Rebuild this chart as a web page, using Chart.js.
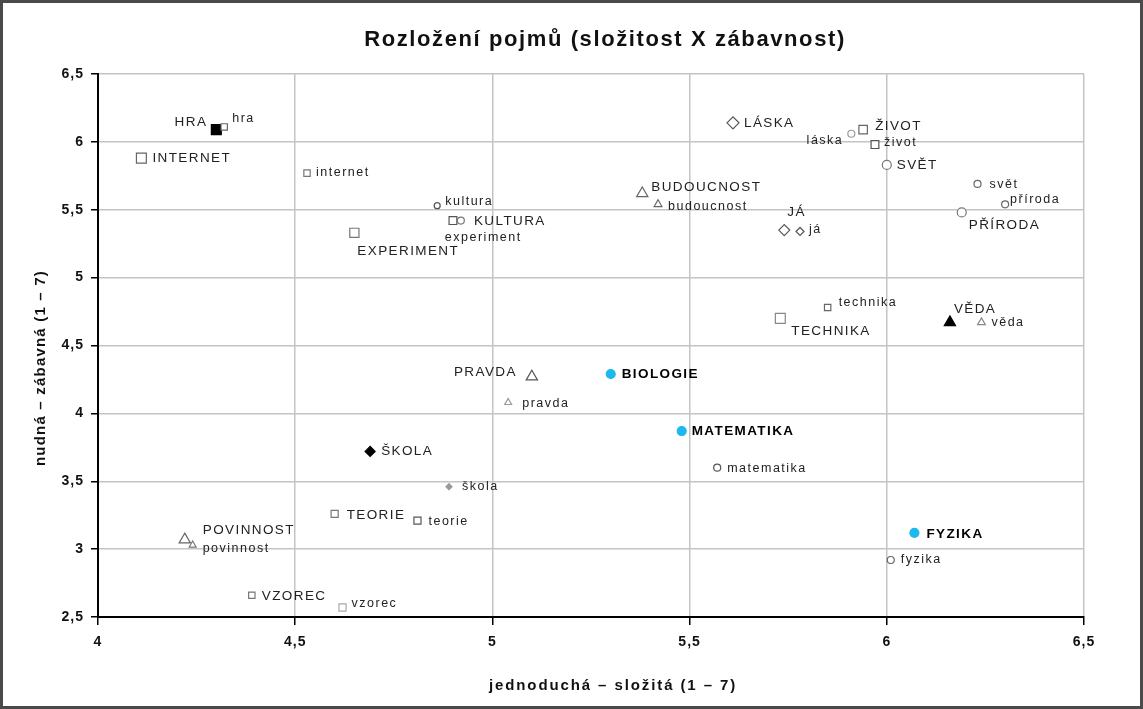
<!DOCTYPE html>
<html>
<head>
<meta charset="utf-8">
<script src="https://cdn.jsdelivr.net/npm/chart.js@4.4.1/dist/chart.umd.min.js"></script>
<style>
html,body{margin:0;padding:0;background:#fff;}
canvas{display:block;}
</style>
</head>
<body>
<canvas id="c" width="1143" height="709"></canvas>
<script>
// ---- DATA ----
const chartTitle = 'Rozložení pojmů (složitost X zábavnost)';
const xAxisTitle = 'jednoduchá – složitá (1 – 7)';
const yAxisTitle = 'nudná – zábavná (1 – 7)';
const names = ['HRA','hra','INTERNET','internet','KULTURA','kultura','EXPERIMENT','experiment',
  'BUDOUCNOST','budoucnost','LÁSKA','láska','ŽIVOT','život','SVĚT','svět','PŘÍRODA','příroda',
  'JÁ','já','TECHNIKA','technika','VĚDA','věda','PRAVDA','pravda','BIOLOGIE','MATEMATIKA',
  'matematika','ŠKOLA','škola','TEORIE','teorie','POVINNOST','povinnost','VZOREC','vzorec',
  'FYZIKA','fyzika'];
const xValues = [4.30,4.32,4.11,4.53,4.90,4.86,4.65,4.92,
  5.38,5.42,5.61,5.91,5.94,5.97,6.00,6.23,6.19,6.30,
  5.74,5.78,5.73,5.85,6.16,6.24,5.10,5.04,5.30,5.48,
  5.57,4.69,4.89,4.60,4.81,4.22,4.24,4.39,4.62,
  6.07,6.01];
const yValues = [6.09,6.11,5.88,5.77,5.42,5.53,5.33,5.42,
  5.62,5.54,6.14,6.06,6.09,5.98,5.83,5.69,5.48,5.54,
  5.35,5.34,4.70,4.78,4.67,4.67,4.27,4.08,4.29,3.87,
  3.60,3.72,3.46,3.26,3.21,3.07,3.03,2.66,2.57,
  3.12,2.92];
const xTickValues = [4,4.5,5,5.5,6,6.5];
const yTickValues = [2.5,3,3.5,4,4.5,5,5.5,6,6.5];

// ---- STYLES (marker + label placement) ----
const CY = '#1cb8ee';
const st = {
 'HRA':{s:'rect',r:7,f:'#000',c:'#000',dx:-9,dy:-7,a:'right'},
 'hra':{s:'rect',r:4.5,f:'#fff',c:'#666',dx:8,dy:-8},
 'INTERNET':{s:'rect',r:7,f:'#fff',c:'#666',dx:11,dy:0},
 'internet':{s:'rect',r:4.5,f:'#fff',c:'#777',dx:9,dy:-1},
 'KULTURA':{s:'rect',r:5.5,f:'#fff',c:'#555',dx:21,dy:1},
 'kultura':{s:'circle',r:3,f:'#fff',c:'#555',dx:8,dy:-4},
 'EXPERIMENT':{s:'rect',r:6.5,f:'#fff',c:'#777',dx:3,dy:18},
 'experiment':{s:'circle',r:3.5,f:'#fff',c:'#777',dx:-16,dy:17},
 'BUDOUCNOST':{s:'triangle',r:6.5,f:'#fff',c:'#666',dx:9,dy:-6},
 'budoucnost':{s:'triangle',r:4.5,f:'#fff',c:'#666',dx:10,dy:2},
 'LÁSKA':{s:'rectRot',r:6,f:'#fff',c:'#555',dx:11,dy:0},
 'láska':{s:'circle',r:3.5,f:'#fff',c:'#999',dx:-8,dy:7,a:'right'},
 'ŽIVOT':{s:'rect',r:6,f:'#fff',c:'#666',dx:12,dy:-3},
 'život':{s:'rect',r:5.5,f:'#fff',c:'#555',dx:9,dy:-2},
 'SVĚT':{s:'circle',r:4.5,f:'#fff',c:'#777',dx:10,dy:0},
 'svět':{s:'circle',r:3.5,f:'#fff',c:'#666',dx:12,dy:1},
 'PŘÍRODA':{s:'circle',r:4.5,f:'#fff',c:'#777',dx:7,dy:13},
 'příroda':{s:'circle',r:3.5,f:'#fff',c:'#666',dx:5,dy:-5},
 'JÁ':{s:'rectRot',r:5.5,f:'#fff',c:'#555',dx:3,dy:-18},
 'já':{s:'rectRot',r:4,f:'#fff',c:'#555',dx:9,dy:-2},
 'TECHNIKA':{s:'rect',r:7,f:'#fff',c:'#888',dx:11,dy:13},
 'technika':{s:'rect',r:4.5,f:'#fff',c:'#666',dx:11,dy:-5},
 'VĚDA':{s:'triangle',r:6.5,f:'#000',c:'#000',dx:4,dy:-13},
 'věda':{s:'triangle',r:4.5,f:'#fff',c:'#888',dx:10,dy:0},
 'PRAVDA':{s:'triangle',r:6.5,f:'#fff',c:'#555',dx:-15,dy:-4,a:'right'},
 'pravda':{s:'triangle',r:4,f:'#fff',c:'#999',dx:14,dy:1},
 'BIOLOGIE':{s:'circle',r:4.5,f:CY,c:CY,dx:11,dy:0,b:true},
 'MATEMATIKA':{s:'circle',r:4.5,f:CY,c:CY,dx:10,dy:0,b:true},
 'matematika':{s:'circle',r:3.5,f:'#fff',c:'#555',dx:10,dy:1},
 'ŠKOLA':{s:'rectRot',r:5,f:'#000',c:'#000',dx:11,dy:0},
 'škola':{s:'rectRot',r:3,f:'#999',c:'#999',dx:13,dy:0},
 'TEORIE':{s:'rect',r:5,f:'#fff',c:'#777',dx:12,dy:1},
 'teorie':{s:'rect',r:5,f:'#fff',c:'#555',dx:11,dy:1},
 'POVINNOST':{s:'triangle',r:6.5,f:'#fff',c:'#666',dx:18,dy:-9},
 'povinnost':{s:'triangle',r:4,f:'#fff',c:'#777',dx:10,dy:3},
 'VZOREC':{s:'rect',r:4.5,f:'#fff',c:'#777',dx:10,dy:1},
 'vzorec':{s:'rect',r:5,f:'#fff',c:'#aaa',dx:9,dy:-4},
 'FYZIKA':{s:'circle',r:4.5,f:CY,c:CY,dx:12,dy:1,b:true},
 'fyzika':{s:'circle',r:3.5,f:'#fff',c:'#666',dx:10,dy:0}
};
const FONT = "'Liberation Sans', Arial, sans-serif";
const points = xValues.map((x,i)=>({x:x,y:yValues[i]}));
const fmt = v => String(v).replace('.',',');

const decor = {
  id:'decor',
  beforeDraw(chart){
    const ctx = chart.ctx;
    ctx.save();
    ctx.fillStyle='#fff';
    ctx.fillRect(0,0,chart.width,chart.height);
    ctx.restore();
    ctx.letterSpacing = '1px';
  },
  afterDraw(chart){
    const ctx = chart.ctx;
    ctx.save();
    ctx.strokeStyle='#4a4a4a';
    ctx.lineWidth=3;
    ctx.strokeRect(1.5,1.5,chart.width-3,chart.height-3);
    ctx.fillStyle='#111';
    ctx.textAlign='center';
    ctx.textBaseline='middle';
    ctx.font='bold 22px '+FONT;
    ctx.letterSpacing='1.6px';
    ctx.fillText(chartTitle, 605, 40);
    ctx.font='bold 15px '+FONT;
    ctx.letterSpacing='1.9px';
    ctx.fillText(xAxisTitle, 613, 686);
    ctx.letterSpacing='1.2px';
    ctx.translate(41,368);
    ctx.rotate(-Math.PI/2);
    ctx.fillText(yAxisTitle, 0, 0);
    ctx.restore();
  },
  afterDatasetsDraw(chart){
    const ctx = chart.ctx;
    const meta = chart.getDatasetMeta(0);
    ctx.save();
    ctx.textBaseline='middle';
    names.forEach((n,i)=>{
      const p = meta.data[i];
      const s = st[n];
      const upper = n === n.toUpperCase();
      ctx.fillStyle = s.b ? '#000' : '#222';
      ctx.font = (s.b?'bold ':'') + (upper?'13.5px ':'12.5px ') + FONT;
      ctx.letterSpacing = upper ? '1.4px' : '1.5px';
      ctx.textAlign = s.a || 'left';
      ctx.fillText(n, p.x + s.dx, p.y + s.dy);
    });
    ctx.restore();
  }
};

new Chart(document.getElementById('c'), {
  type:'scatter',
  data:{
    datasets:[{
      data: points,
      pointStyle: names.map(n=>st[n].s),
      pointRadius: names.map(n=>st[n].r),
      pointHoverRadius: names.map(n=>st[n].r),
      pointBackgroundColor: names.map(n=>st[n].f),
      pointBorderColor: names.map(n=>st[n].c),
      pointBorderWidth: 1.2
    }]
  },
  options:{
    responsive:false,
    animation:false,
    events:[],
    layout:{padding:{top:74,right:59,left:0,bottom:0}},
    plugins:{legend:{display:false},tooltip:{enabled:false},title:{display:false}},
    scales:{
      x:{
        type:'linear', min:4, max:6.5,
        afterBuildTicks: s => { s.ticks = xTickValues.map(v=>({value:v})); },
        afterFit: s => { s.height = 92; },
        grid:{color:'#c4c4c4', lineWidth:1.5, tickColor:'#000', tickLength:8, drawTicks:true},
        border:{color:'#000', width:2},
        ticks:{color:'#111', padding:9, font:{family:FONT, size:14, weight:'bold'}, callback: v=>fmt(v), maxRotation:0}
      },
      y:{
        type:'linear', min:2.5, max:6.5,
        afterBuildTicks: s => { s.ticks = yTickValues.map(v=>({value:v})); },
        afterFit: s => { s.width = 98; },
        grid:{color:'#c4c4c4', lineWidth:1.5, tickColor:'#000', tickLength:7, drawTicks:true},
        border:{color:'#000', width:2},
        ticks:{color:'#111', padding:7, font:{family:FONT, size:14, weight:'bold'}, callback: v=>fmt(v)}
      }
    }
  },
  plugins:[decor]
});
</script>
</body>
</html>
